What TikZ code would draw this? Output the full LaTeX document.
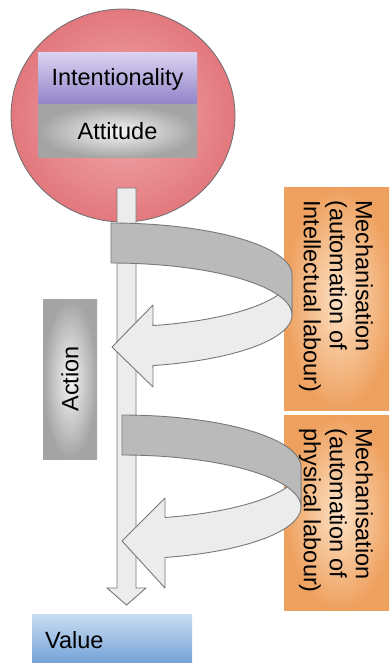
\documentclass[tikz,border=0pt]{standalone}
\usepackage{fontspec}
\setmainfont{Liberation Sans}
\usetikzlibrary{shapes.geometric}
\definecolor{pinkin}{RGB}{242,172,174}
\definecolor{pinkout}{RGB}{226,120,126}
\definecolor{circline}{RGB}{110,110,110}
\definecolor{purtop}{RGB}{218,210,240}
\definecolor{purbot}{RGB}{144,130,200}
\definecolor{grayin}{RGB}{246,246,246}
\definecolor{grayout}{RGB}{164,164,164}
\definecolor{orin}{RGB}{253,226,198}
\definecolor{orout}{RGB}{238,160,94}
\definecolor{bluetop}{RGB}{201,220,241}
\definecolor{bluebot}{RGB}{111,159,213}
\definecolor{shaftfill}{RGB}{236,236,236}
\definecolor{banddark}{RGB}{186,186,186}
\definecolor{bandline}{RGB}{120,120,120}
\begin{document}
\begin{tikzpicture}[x=1pt,y=-1pt,
  font=\fontsize{23.5}{26}\selectfont,
  box/.style={rectangle, inner sep=0pt, draw=none},
  graybox/.style={box, inner color=grayin, outer color=grayout},
  orbox/.style={box, inner color=orin, outer color=orout, anchor=north west, minimum width=110pt},
  mechtext/.style={rotate=-90, anchor=north west, inner sep=0pt, align=left},
  lightband/.style={fill=shaftfill, draw=bandline, line width=0.9pt, line join=round},
  darkband/.style={fill=banddark, draw=bandline, line width=0.9pt, line join=round},
  shaft/.style={fill=shaftfill, draw=bandline, line width=0.9pt, line join=miter}
]
\clip (0,0) rectangle (389,663);
% head circle
\node[ellipse, draw=circline, line width=0.8pt, inner color=pinkin, outer color=pinkout,
      minimum width=224pt, minimum height=213pt, inner sep=0pt] (head) at (123,115.5) {};
\node[box, top color=purtop, bottom color=purbot, minimum width=159pt, minimum height=52pt] (intent) at (117.5,79) {Intentionality};
\node[graybox, minimum width=159pt, minimum height=53pt] (attitude) at (117.5,131.5) {Attitude};
% vertical shaft arrow
\coordinate (shafttop) at (126.5,188);
\coordinate (shafttip) at (126.5,605);
\path[shaft] (117,188) -- (136,188) -- (136,588) -- (146,588) -- (shafttip) -- (107,588) -- (117,588) -- cycle;
% mechanisation boxes
\node[orbox, minimum height=223pt] (mech1) at (284,187) {};
\node[orbox, minimum height=195pt] (mech2) at (284,415) {};
% action and value
\node[graybox, rotate=90, minimum width=160pt, minimum height=54pt] (action) at (70,379) {Action};
\node[box, top color=bluetop, bottom color=bluebot, anchor=north west, minimum height=52pt,
      text width=134pt, inner xsep=13pt, align=left] (value) at (32,614) {Value};
% curved arrow 1
\path[lightband] plot[domain=0:76.6, samples=30, variable=\t] ({111+181*cos(\t)},{275+52*sin(\t)})
   -- (153,305) -- (112,347) -- (153,387)
   -- plot[domain=76.6:0, samples=30, variable=\t] ({111+181*cos(\t)},{315+52*sin(\t)}) -- cycle;
\path[darkband] plot[domain=-90:0, samples=40, variable=\t] ({111+181*cos(\t)},{275+52*sin(\t)})
   -- plot[domain=0:-90, samples=40, variable=\t] ({111+181*cos(\t)},{315+52*sin(\t)}) -- cycle;
% curved arrow 2
\path[lightband] plot[domain=0:76.1, samples=30, variable=\t] ({122+179*cos(\t)},{467+52*sin(\t)})
   -- (165,498) -- (122,541) -- (165,588)
   -- plot[domain=76.1:0, samples=30, variable=\t] ({122+179*cos(\t)},{507+52*sin(\t)}) -- cycle;
\path[darkband] plot[domain=-90:0, samples=40, variable=\t] ({122+179*cos(\t)},{467+52*sin(\t)})
   -- plot[domain=0:-90, samples=40, variable=\t] ({122+179*cos(\t)},{507+52*sin(\t)}) -- cycle;
% mechanisation texts
\node[mechtext] (mech1t) at (373,200) {Mechanisation\\(automation of\\Intellectual labour)};
\node[mechtext] (mech2t) at (373,428) {Mechanisation\\(automation of\\physical labour)};
\end{tikzpicture}
\end{document}
